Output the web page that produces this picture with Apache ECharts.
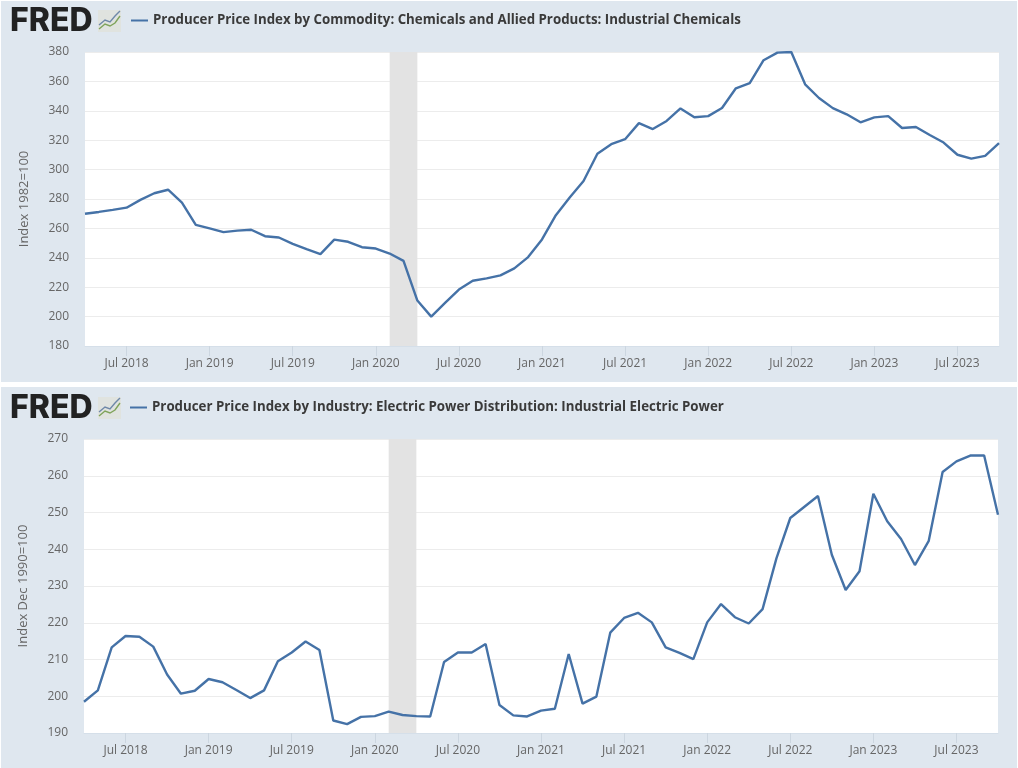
<!DOCTYPE html>
<html>
<head>
<meta charset="utf-8">
<title>FRED</title>
<script src="https://cdn.jsdelivr.net/npm/echarts@6/dist/echarts.min.js"></script>
<style>
html, body { margin: 0; padding: 0; background: #fff; overflow: hidden; }
#main, #main1 { position: absolute; left: 1px; width: 1016px; height: 381px; }
#main { top: 1px; }
#main1 { top: 387px; }
</style>
</head>
<body>
<div id="main"></div>
<div id="main1"></div>
<script>
var months = [ 'Apr 2018', 'May 2018', 'Jun 2018', 'Jul 2018', 'Aug 2018', 'Sep 2018', 'Oct 2018', 'Nov 2018', 'Dec 2018',
		'Jan 2019', 'Feb 2019', 'Mar 2019', 'Apr 2019', 'May 2019', 'Jun 2019', 'Jul 2019', 'Aug 2019', 'Sep 2019', 'Oct 2019', 'Nov 2019', 'Dec 2019',
		'Jan 2020', 'Feb 2020', 'Mar 2020', 'Apr 2020', 'May 2020', 'Jun 2020', 'Jul 2020', 'Aug 2020', 'Sep 2020', 'Oct 2020', 'Nov 2020', 'Dec 2020',
		'Jan 2021', 'Feb 2021', 'Mar 2021', 'Apr 2021', 'May 2021', 'Jun 2021', 'Jul 2021', 'Aug 2021', 'Sep 2021', 'Oct 2021', 'Nov 2021', 'Dec 2021',
		'Jan 2022', 'Feb 2022', 'Mar 2022', 'Apr 2022', 'May 2022', 'Jun 2022', 'Jul 2022', 'Aug 2022', 'Sep 2022', 'Oct 2022', 'Nov 2022', 'Dec 2022',
		'Jan 2023', 'Feb 2023', 'Mar 2023', 'Apr 2023', 'May 2023', 'Jun 2023', 'Jul 2023', 'Aug 2023', 'Sep 2023', 'Oct 2023' ];

// 化工品
var chemicals = [ 270.0, 271.2, 272.6, 274.1, 279.4, 283.9, 286.3, 277.6, 262.4,
		260.0, 257.5, 258.5, 259.1, 254.7, 253.8, 249.5, 245.9, 242.5, 252.4, 250.9, 247.2,
		246.3, 242.9, 237.9, 210.9, 200.0, 209.3, 218.4, 224.4, 226.0, 228.0, 232.8, 240.5,
		252.5, 269.0, 281.0, 292.2, 310.8, 317.3, 320.7, 331.6, 327.6, 333.1, 341.6, 335.6,
		336.4, 341.9, 355.3, 358.9, 374.4, 379.6, 380.0, 358.0, 348.7, 341.8, 337.6, 332.2,
		335.5, 336.4, 328.3, 329.0, 323.5, 318.4, 310.1, 307.5, 309.3, 318.0 ];

// 工业用电
var electric = [ 198.5, 201.6, 213.3, 216.4, 216.2, 213.5, 205.9, 200.7, 201.5,
		204.7, 203.8, 201.7, 199.5, 201.6, 209.5, 211.9, 214.9, 212.6, 193.4, 192.4, 194.4,
		194.6, 195.8, 194.9, 194.6, 194.5, 209.3, 211.9, 211.9, 214.2, 197.6, 194.8, 194.5,
		196.1, 196.6, 211.5, 198.0, 199.9, 217.3, 221.3, 222.7, 220.1, 213.3, 211.8, 210.1,
		220.1, 225.1, 221.5, 219.8, 223.7, 237.5, 248.5, 251.5, 254.5, 238.5, 228.9, 234.0,
		255.1, 247.6, 242.8, 235.7, 242.3, 261.0, 263.9, 265.5, 265.5, 249.4 ];

var recession = [ 'Feb 2020', 'Apr 2020' ];

var name1 = 'Producer Price Index by Commodity: Chemicals and Allied Products: Industrial Chemicals';
var name2 = 'Producer Price Index by Industry: Electric Power Distribution: Industrial Electric Power';

var fontName = '"Open Sans", sans-serif';
var lineColor = '#4572a7';

// 只在一月和七月显示刻度
function halfYear(index, value) {
	return value.indexOf('Jan') === 0 || value.indexOf('Jul') === 0;
}

// FRED 标志
function logo(top) {
	return [ {
		type : 'text',
		left : 9,
		top : top - 5,
		style : {
			text : 'FRED',
			font : '800 32px Inter, sans-serif',
			fill : '#222222'
		}
	}, {
		type : 'rect',
		shape : { x : 97, y : top, width : 23, height : 22 },
		style : { fill : '#e0e3df' }
	}, {
		type : 'polyline',
		shape : { points : [ [ 98, top + 15 ], [ 104, top + 10 ], [ 109, top + 12 ], [ 114, top + 6 ], [ 119, top + 1 ] ] },
		style : { stroke : '#6f88a8', fill : null, lineWidth : 1.4 }
	}, {
		type : 'polyline',
		shape : { points : [ [ 98, top + 19 ], [ 104, top + 14 ], [ 109, top + 16 ], [ 114, top + 13 ], [ 119, top + 6 ] ] },
		style : { stroke : '#7fa35a', fill : null, lineWidth : 1.4 }
	} ];
}

function makeOption(title, unit, values, min, max, interval, left, top, logoTop) {
	return {
		backgroundColor : '#dfe7ef',
		animation : false,
		textStyle : { fontFamily : fontName },
		legend : {
			left : left + 41,
			top : logoTop - 1,
			itemWidth : 17,
			itemHeight : 2,
			itemGap : 5,
			icon : 'rect',
			textStyle : {
				fontFamily : fontName,
				fontSize : 13.3,
				fontWeight : 'bold',
				color : '#3a3a3a'
			},
			data : [ title ]
		},
		graphic : logo(logoTop),
		grid : {
			left : left,
			top : top,
			width : 914,
			height : 294,
			show : true,
			backgroundColor : '#ffffff',
			borderWidth : 0
		},
		xAxis : [ {
			type : 'category',
			boundaryGap : false,
			data : months,
			axisLine : {
				lineStyle : { color : '#d5dfe9' }
			},
			axisTick : {
				length : 10,
				alignWithLabel : true,
				interval : halfYear,
				lineStyle : { color : '#ccd6e0' }
			},
			axisLabel : {
				interval : halfYear,
				margin : 12,
				fontFamily : fontName,
				fontSize : 12,
				color : '#666666'
			}
		} ],
		yAxis : [ {
			type : 'value',
			name : unit,
			nameLocation : 'middle',
			nameGap : 54,
			nameTextStyle : {
				fontFamily : fontName,
				fontSize : 13,
				color : '#666666'
			},
			min : min,
			max : max,
			interval : interval,
			axisLine : { show : false },
			axisTick : { show : false },
			axisLabel : {
				margin : 16,
				padding : [ 2, 0, 0, 0 ],
				fontFamily : fontName,
				fontSize : 12,
				color : '#666666'
			},
			splitLine : {
				lineStyle : { color : '#ececec', width : 1 }
			}
		} ],
		series : [ {
			name : title,
			type : 'line',
			data : values,
			symbol : 'none',
			itemStyle : { color : lineColor },
			lineStyle : { color : lineColor, width : 2.4 },
			markArea : {
				silent : true,
				itemStyle : { color : '#e3e3e3' },
				data : [ [ { xAxis : recession[0] }, { xAxis : recession[1] } ] ]
			}
		} ]
	};
}

var myChart = echarts.init(document.getElementById('main'));
var myChart1 = echarts.init(document.getElementById('main1'));

myChart.setOption(makeOption(name1, 'Index 1982=100', chemicals, 180, 380, 20, 84, 51, 9));
myChart1.setOption(makeOption(name2, 'Index Dec 1990=100', electric, 190, 270, 10, 83, 52, 10));
</script>
</body>
</html>
